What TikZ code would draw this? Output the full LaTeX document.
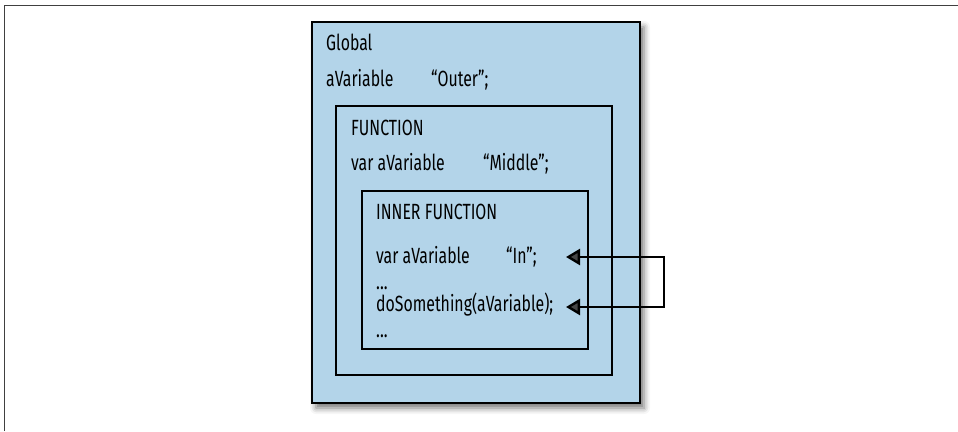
\documentclass[tikz,border=0pt]{standalone}
\usepackage{fontspec}
\setmainfont[FakeStretch=0.72]{Fira Sans}
\usetikzlibrary{arrows.meta,shadows.blur}
\definecolor{scopeblue}{HTML}{B3D4E9}
\tikzset{>={Triangle[length=14pt,width=16pt]}}
\tikzset{
    scopeframe/.style={draw=black,line width=2.4pt,fill=scopeblue},
    code/.style={anchor=base west,inner sep=0pt,font=\fontsize{22}{26}\selectfont},
    link/.style={<->,line width=2.4pt},
    pageedge/.style={draw=black!75,line width=1pt},
}
\newcommand\scopebox[5][]{
    \draw[scopeframe,#1] (#2,#3) rectangle (#4,#5);
}

\begin{document}
\begin{tikzpicture}[x=1pt,y=-1pt]
    \useasboundingbox (0,0) rectangle (958,431);
    \draw[pageedge] (4,431) -- (4,5) -- (958,5);
    % nested scopes
    \scopebox[blur shadow={shadow xshift=4pt,shadow yshift=-5pt,shadow blur radius=6pt,shadow opacity=55}]{312}{22}{640}{403}
    \scopebox{336}{106}{612}{375}
    \scopebox{362}{191}{588}{349}
    % global scope
    \node[code] (global)   at (326,50)  {Global};
    \node[code] (outervar) at (326,86)  {aVariable};
    \node[code] (outerval) at (431,86)  {“Outer”;};
    % function scope
    \node[code] (func)     at (351,135) {FUNCTION};
    \node[code] (midvar)   at (351,170) {var aVariable};
    \node[code] (midval)   at (483,170) {“Middle”;};
    % inner function scope
    \node[code] (inner)    at (376,219) {INNER FUNCTION};
    \node[code] (invar)    at (376,263) {var aVariable};
    \node[code] (inval)    at (506,263) {“In”;};
    \node[code] (dotsa)    at (376,289) {...};
    \node[code] (call)     at (376,311) {doSomething(aVariable);};
    \node[code] (dotsb)    at (376,337) {...};
    \coordinate (intip)   at (566,257);
    \coordinate (calltip) at (566,307);
    \coordinate (turn)    at (664,257);
    \draw[link] (intip) -- (turn) |- (calltip);
\end{tikzpicture}
\end{document}
